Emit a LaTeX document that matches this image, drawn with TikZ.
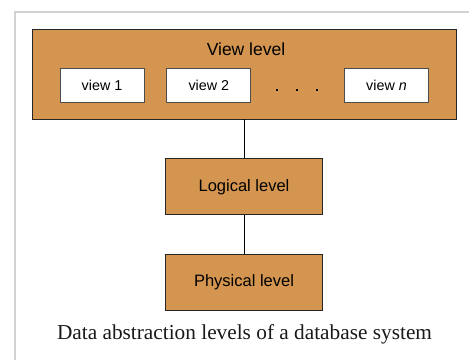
\documentclass[tikz,border=0pt]{standalone}
\usepackage{fontspec}
\setmainfont{Liberation Serif}
\setsansfont{Liberation Sans}
\usepackage{tikz}
\usetikzlibrary{positioning}
\definecolor{levelfill}{RGB}{212,149,80}
\definecolor{framegray}{RGB}{210,210,210}
\tikzstyle{level}   = [rectangle, draw=black!85, line width=0.8pt, fill=levelfill,
                       font=\sffamily\fontsize{16.5}{18}\selectfont]
\tikzstyle{viewbox} = [rectangle, draw=black!70, line width=0.8pt, fill=white,
                       minimum width=84pt, minimum height=34pt,
                       font=\sffamily\fontsize{14.3}{16}\selectfont]
\tikzstyle{link}    = [line width=0.8pt]
\tikzstyle{dot}     = [rectangle, fill=black, minimum size=2.5pt, inner sep=0pt]

\begin{document}
\begin{tikzpicture}[x=1pt, y=-1pt]
  \useasboundingbox (0,0) rectangle (469,360);

  % Frame
  \draw[framegray, line width=1.5pt] (15,360) -- (15,12) -- (469,12);

  % View level
  \node[level, minimum width=424pt, minimum height=90pt] (viewlevel) at (244,74) {};
  \node[font=\sffamily\fontsize{17.5}{19}\selectfont] (viewtitle) at (246,49) {View level};

  % Views
  \node[viewbox] (view1) at (102,85) {view 1};
  \node[viewbox, right=22pt of view1] (view2) {view 2};
  \node[viewbox] (viewn) at (386.5,85) {view \textit{n}};
  \node[dot] (dota) at (277,90) {};
  \node[dot, right=17pt of dota] (dotb) {};
  \node[dot, right=17pt of dotb] (dotc) {};

  % Logical level
  \node[level, minimum width=157pt, minimum height=56pt, below=39pt of viewlevel]
        (logical) {Logical level};
  \draw[link] (viewlevel) -- (logical);

  % Physical level
  \node[level, minimum width=157pt, minimum height=56pt, below=39pt of logical]
        (physical) {Physical level};
  \draw[link] (logical) -- (physical);

  % Caption
  \node[font=\fontsize{21.3}{23}\selectfont, text=black!90] (caption) at (244.5,334)
        {Data abstraction levels of a database system};

\end{tikzpicture}
\end{document}
